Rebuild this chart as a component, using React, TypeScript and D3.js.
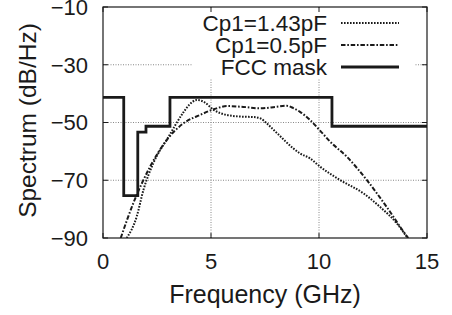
import { useEffect } from 'react';
import * as d3 from 'd3';

// Cp1 = 1.43 pF (dotted)
const cp143Freq = [1.1, 1.56, 1.87, 2.33, 3.03, 3.72, 4.0, 4.34, 4.7, 5.1, 5.73, 6.5, 6.96, 7.3, 7.58, 8.1, 8.8, 9.12, 9.58, 10.05, 10.97, 12.05, 12.82, 13.6, 14.1];
const cp143Db = [-90, -82.6, -73.4, -64.1, -55, -46.5, -43.8, -42.2, -43, -45.5, -47.4, -48, -48.1, -48.6, -50.3, -54, -58.9, -60.7, -62.4, -65.3, -69.9, -74.5, -79.2, -84.9, -90];

// Cp1 = 0.5 pF (dash-dot)
const cp05Freq = [0.82, 1.4, 2.18, 2.95, 3.72, 4.49, 5.26, 5.73, 6.5, 7.27, 8.0, 8.5, 8.81, 9.12, 9.58, 10.05, 10.51, 11.28, 12.21, 13.13, 13.98, 14.13];
const cp05Db = [-90, -78, -65.3, -56.1, -50.3, -47.4, -45.1, -44.3, -44.6, -45.1, -44.6, -44.2, -45, -46.3, -49.1, -52.8, -56.6, -61.8, -69.9, -79.2, -88.5, -90];

// FCC indoor mask (step function)
const maskFreq = [0, 0.96, 1.61, 1.99, 3.1, 10.6, 15];
const maskDb = [-41.3, -75.3, -53.3, -51.3, -41.3, -51.3, -51.3];

const xTicks = [0, 5, 10, 15];
const yTicks = [-10, -30, -50, -70, -90];
const gridX = [5, 10];
const gridY = [-30, -50, -70];

const legendLabels = ['Cp1=1.43pF', 'Cp1=0.5pF', 'FCC mask'];

type Pt = [number, number];

export default function App() {
  useEffect(() => {
    document.body.style.margin = '0';
  }, []);

  const W = 452;
  const H = 315;
  const left = 103;
  const right = 427;
  const top = 7;
  const bottom = 238;
  const font = '"Liberation Sans", Arial, Helvetica, sans-serif';
  const ink = '#1a1a1a';

  const x = d3.scaleLinear().domain([0, 15]).range([left, right]);
  const y = d3.scaleLinear().domain([-90, -10]).range([bottom, top]);

  const smooth = d3
    .line<Pt>()
    .x((d) => x(d[0]))
    .y((d) => y(d[1]))
    .curve(d3.curveMonotoneX);
  const step = d3
    .line<Pt>()
    .x((d) => x(d[0]))
    .y((d) => y(d[1]))
    .curve(d3.curveStepAfter);

  const cp143: Pt[] = cp143Freq.map((f, i) => [f, cp143Db[i]]);
  const cp05: Pt[] = cp05Freq.map((f, i) => [f, cp05Db[i]]);
  const mask: Pt[] = maskFreq.map((f, i) => [f, maskDb[i]]);

  const styles = [
    { dash: '1.6,1.4', width: 2 },
    { dash: '4.5,1.8,1.6,1.8', width: 2 },
    { dash: '', width: 2.8 },
  ];

  const legendRight = 327;
  const sampleX1 = 341;
  const sampleX2 = 399;
  const rowY = [23, 45, 67];

  return (
    <svg width={W} height={H} style={{ display: 'block', background: '#fff' }}>
      <defs>
        <clipPath id="plot">
          <rect x={left} y={top} width={right - left} height={bottom - top} />
        </clipPath>
      </defs>

      {/* grid */}
      {gridY.map((v) => (
        <line key={'gy' + v} x1={left} x2={right} y1={y(v)} y2={y(v)} stroke="#888" strokeWidth={1} strokeDasharray="1,1.5" />
      ))}
      {gridX.map((v) => (
        <line key={'gx' + v} x1={x(v)} x2={x(v)} y1={top} y2={bottom} stroke="#888" strokeWidth={1} strokeDasharray="1,1.5" />
      ))}

      {/* opaque key box */}
      <rect x={193} y={9} width={221} height={70} fill="#fff" />

      {/* ticks */}
      {xTicks.map((v) => (
        <g key={'xt' + v}>
          <line x1={x(v)} x2={x(v)} y1={bottom} y2={bottom - 5} stroke={ink} />
          <line x1={x(v)} x2={x(v)} y1={top} y2={top + 5} stroke={ink} />
          <text x={x(v)} y={269} textAnchor="middle" fontFamily={font} fontSize={22} fill={ink}>
            {d3.format('d')(v)}
          </text>
        </g>
      ))}
      {yTicks.map((v) => (
        <g key={'yt' + v}>
          <line x1={left} x2={left + 5} y1={y(v)} y2={y(v)} stroke={ink} />
          <line x1={right} x2={right - 5} y1={y(v)} y2={y(v)} stroke={ink} />
          <text x={88} y={y(v)} dy="0.36em" textAnchor="end" fontFamily={font} fontSize={22} fill={ink}>
            {d3.format('d')(v)}
          </text>
        </g>
      ))}

      {/* curves */}
      <g clipPath="url(#plot)" fill="none" stroke={ink}>
        <path d={smooth(cp143) ?? ''} strokeWidth={styles[0].width} strokeDasharray={styles[0].dash} />
        <path d={smooth(cp05) ?? ''} strokeWidth={styles[1].width} strokeDasharray={styles[1].dash} />
        <path d={step(mask) ?? ''} strokeWidth={styles[2].width} strokeLinejoin="miter" />
      </g>

      {/* legend */}
      {legendLabels.map((lab, i) => (
        <g key={lab}>
          <text x={legendRight} y={rowY[i]} dy="0.36em" textAnchor="end" fontFamily={font} fontSize={22.5} fill={ink}>
            {lab}
          </text>
          <line
            x1={sampleX1}
            x2={sampleX2}
            y1={rowY[i]}
            y2={rowY[i]}
            stroke={ink}
            strokeWidth={styles[i].width}
            strokeDasharray={styles[i].dash || undefined}
          />
        </g>
      ))}

      {/* border */}
      <rect x={left} y={top} width={right - left} height={bottom - top} fill="none" stroke={ink} strokeWidth={1.2} />

      {/* axis titles */}
      <text x={(left + right) / 2} y={303} textAnchor="middle" fontFamily={font} fontSize={25} fill={ink}>
        Frequency (GHz)
      </text>
      <text
        transform={`translate(36,${(top + bottom) / 2 - 2}) rotate(-90)`}
        textAnchor="middle"
        fontFamily={font}
        fontSize={24.5}
        fill={ink}
      >
        Spectrum (dB/Hz)
      </text>
    </svg>
  );
}
